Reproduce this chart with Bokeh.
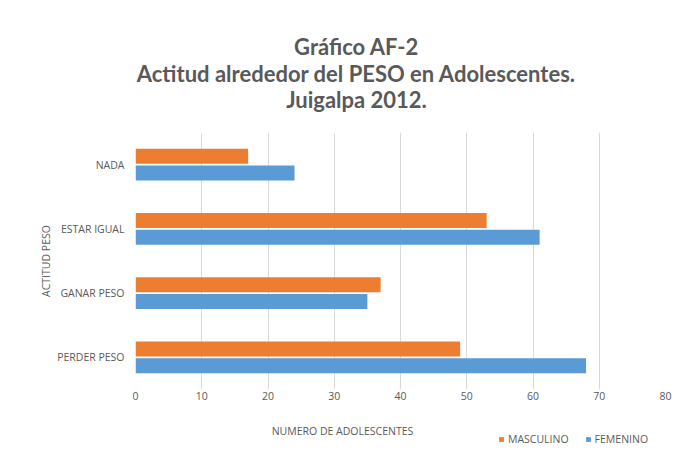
from bokeh.plotting import figure
from bokeh.models import (FactorRange, Range1d, FixedTicker, Legend,
                          LegendItem, ColumnDataSource, Label)
from bokeh.layouts import column
from bokeh.transform import dodge
from bokeh.embed import file_html
from bokeh.resources import INLINE

# ---- data ----
categories = ["PERDER PESO", "GANAR PESO", "ESTAR IGUAL", "NADA"]  # bottom -> top
masculino = [49, 37, 53, 17]
femenino = [68, 35, 61, 24]
x_ticks = [0, 10, 20, 30, 40, 50, 60, 70, 80]
title_lines = ["Gráfico AF-2",
               "Actitud alrededor del PESO en Adolescentes.",
               "Juigalpa 2012."]
series_names = ["MASCULINO", "FEMENINO"]
x_label = "NUMERO DE ADOLESCENTES"
y_label = "ACTITUD PESO"

ORANGE = "#ED7D31"
BLUE = "#5B9BD5"
GRAY = "#595959"
FONT = "Open Sans"
SMALL = "10.5px"
W = 675


def blank(height):
    f = figure(width=W, height=height, output_backend="svg", toolbar_location=None,
               x_range=Range1d(0, 1), y_range=Range1d(0, 1),
               min_border=0, min_border_left=0, min_border_right=0,
               min_border_top=0, min_border_bottom=0)
    f.axis.visible = False
    f.grid.visible = False
    f.outline_line_color = None
    f.title.visible = False
    return f


# ---- title block (frame is aligned with the chart's frame, x from 135) ----
top = blank(124)
for txt, yy in zip(title_lines, [78, 51, 25]):
    top.add_layout(Label(x=221, y=yy, x_units="screen", y_units="screen",
                         text=txt, text_align="center", text_baseline="middle",
                         text_font="Lato", text_font_style="bold",
                         text_font_size="22px", text_color=GRAY))

# ---- main chart ----
source = ColumnDataSource(dict(cat=categories, masc=masculino, fem=femenino))

p = figure(width=W, height=285, output_backend="svg", toolbar_location=None,
           y_range=FactorRange(factors=categories), x_range=Range1d(0, 80),
           min_border_left=135, min_border_right=10, min_border_top=8,
           min_border_bottom=20)
p.outline_line_color = None
p.title.visible = False

r1 = p.hbar(y=dodge("cat", 0.13, range=p.y_range), right="masc", left=0,
            height=0.235, source=source, fill_color=ORANGE, line_color=None)
r2 = p.hbar(y=dodge("cat", -0.13, range=p.y_range), right="fem", left=0,
            height=0.235, source=source, fill_color=BLUE, line_color=None)

p.xaxis.ticker = FixedTicker(ticks=x_ticks)
for ax in (p.xaxis[0], p.yaxis[0]):
    ax.axis_line_color = None
    ax.major_tick_line_color = None
    ax.minor_tick_line_color = None
    ax.major_label_text_font = FONT
    ax.major_label_text_font_size = SMALL
    ax.major_label_text_color = GRAY
p.xaxis.major_label_standoff = -4
p.yaxis.major_label_standoff = 5
p.yaxis.axis_label = y_label
p.yaxis.axis_label_text_font = FONT
p.yaxis.axis_label_text_font_size = SMALL
p.yaxis.axis_label_text_font_style = "normal"
p.yaxis.axis_label_text_color = GRAY
p.yaxis.axis_label_standoff = 1

p.xgrid.grid_line_color = "#d9d9d9"
p.ygrid.grid_line_color = None

# ---- x label + legend block (frame also starts at x=135) ----
bot = blank(50)
bot.add_layout(Label(x=207, y=29, x_units="screen", y_units="screen",
                     text=x_label, text_align="center", text_baseline="middle",
                     text_font=FONT, text_font_size=SMALL, text_color=GRAY))
# hidden renderers that only supply the legend swatches
lr1 = bot.hbar(y="masc", right="masc", left=0, height=0.5, source=source,
               fill_color=ORANGE, line_color=None, visible=False)
lr2 = bot.hbar(y="fem", right="fem", left=0, height=0.5, source=source,
               fill_color=BLUE, line_color=None, visible=False)
legend = Legend(items=[LegendItem(label=series_names[0], renderers=[lr1]),
                       LegendItem(label=series_names[1], renderers=[lr2])],
                orientation="horizontal", location=(363, 13),
                glyph_width=6, glyph_height=6, label_standoff=4, spacing=16,
                label_height=12, label_width=10,
                padding=0, margin=0, border_line_color=None,
                background_fill_alpha=0, inactive_fill_alpha=0,
                label_text_font=FONT, label_text_font_size=SMALL,
                label_text_color=GRAY)
bot.add_layout(legend)

open("out.html", "w").write(file_html(column(top, p, bot), INLINE))
